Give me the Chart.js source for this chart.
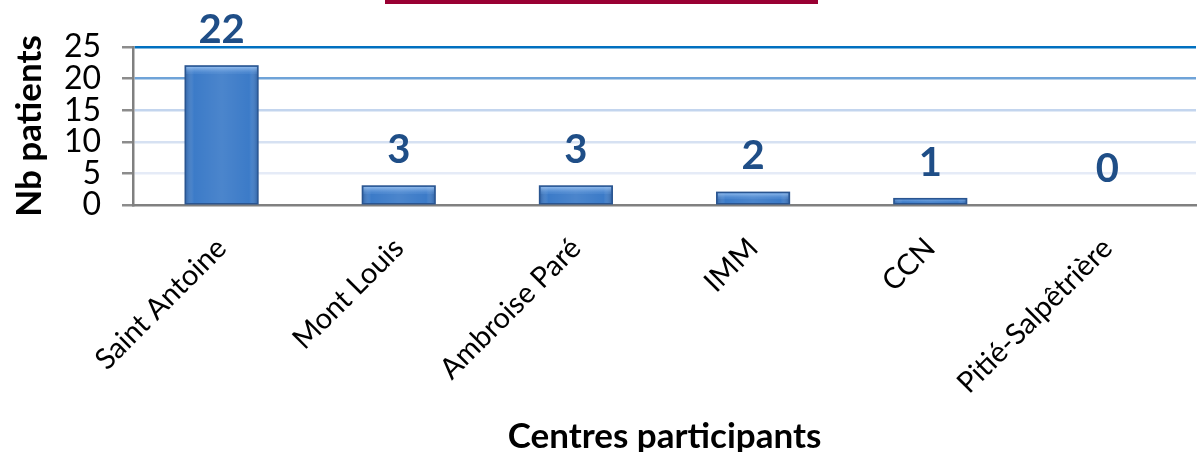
<!DOCTYPE html>
<html>
<head>
<meta charset="utf-8">
<script src="https://cdn.jsdelivr.net/npm/chart.js"></script>
<style>
  html, body { margin: 0; padding: 0; background: #fff; }
  #wrap { position: relative; width: 1197px; height: 452px; }
  #redbar { position: absolute; left: 385px; top: 0; width: 433px; height: 4px; background: #990033; }
</style>
</head>
<body>
<div id="wrap">
  <canvas id="c"></canvas>
  <div id="redbar"></div>
</div>
<script>
const categories = ['Saint Antoine', 'Mont Louis', 'Ambroise Paré', 'IMM', 'CCN', 'Pitié-Salpêtrière'];
const patients = [22, 3, 3, 2, 1, 0];
const yTicks = [0, 5, 10, 15, 20, 25];
const yAxisTitle = 'Nb patients';
const xAxisTitle = 'Centres participants';

const FONT = 'Lato, "Open Sans", sans-serif';

// bevel shading drawn over each bar using the bar element geometry
const barShade = {
  id: 'barShade',
  afterDatasetsDraw(chart) {
    const ctx = chart.ctx;
    const meta = chart.getDatasetMeta(0);
    ctx.save();
    meta.data.forEach((el) => {
      const h = el.base - el.y;
      if (h <= 0.5) return;
      const l = el.x - el.width / 2, r = el.x + el.width / 2;
      const g = ctx.createLinearGradient(l, 0, r, 0);
      g.addColorStop(0, 'rgba(20,50,100,0.35)');
      g.addColorStop(0.12, 'rgba(255,255,255,0.0)');
      g.addColorStop(0.5, 'rgba(255,255,255,0.08)');
      g.addColorStop(0.88, 'rgba(255,255,255,0.0)');
      g.addColorStop(1, 'rgba(20,50,100,0.35)');
      ctx.fillStyle = g;
      ctx.fillRect(l, el.y, el.width, h);
      const bh = Math.min(7, h / 2);
      const g2 = ctx.createLinearGradient(0, el.y, 0, el.y + bh);
      g2.addColorStop(0, 'rgba(170,205,245,0.9)');
      g2.addColorStop(1, 'rgba(120,170,230,0.2)');
      ctx.fillStyle = g2;
      ctx.fillRect(l + 1, el.y + 1, el.width - 2, bh);
      ctx.strokeStyle = '#2a5590';
      ctx.lineWidth = 1.5;
      ctx.strokeRect(l, el.y, el.width, h);
    });
    ctx.restore();
  }
};

const valueLabels = {
  id: 'valueLabels',
  afterDatasetsDraw(chart) {
    const ctx = chart.ctx;
    const meta = chart.getDatasetMeta(0);
    ctx.save();
    ctx.fillStyle = '#1f4e87';
    ctx.font = 'bold 40px ' + FONT;
    ctx.textAlign = 'center';
    ctx.textBaseline = 'bottom';
    meta.data.forEach((el, i) => {
      ctx.fillText(String(patients[i]), el.x, el.y - 16);
    });
    ctx.restore();
  }
};

new Chart(document.getElementById('c'), {
  type: 'bar',
  data: {
    labels: categories,
    datasets: [{
      data: patients,
      backgroundColor: '#3c7bc8',
      borderColor: '#2a5590',
      borderWidth: 0,
      barPercentage: 0.41,
      categoryPercentage: 1.0
    }]
  },
  options: {
    responsive: true,
    maintainAspectRatio: false,
    animation: false,
    layout: { padding: { top: 47, right: 1, left: 0, bottom: 0 } },
    plugins: { legend: { display: false }, tooltip: { enabled: false } },
    scales: {
      x: {
        grid: { display: false, drawTicks: false },
        border: { display: true, color: '#808080', width: 2.5 },
        ticks: {
          color: '#000',
          font: { family: FONT, size: 29 },
          minRotation: 45, maxRotation: 45,
          autoSkip: false,
          padding: 26
        },
        title: {
          display: true, text: xAxisTitle, color: '#000',
          font: { family: FONT, size: 35, weight: 'bold', lineHeight: 0.9 },
          padding: { top: 0, bottom: 0 }
        },
        afterFit(scale) { scale.height = 247; }
      },
      y: {
        min: 0, max: 25,
        afterBuildTicks(scale) { scale.ticks = yTicks.map(v => ({ value: v })); },
        grid: {
          color: (ctx) => {
            const v = ctx.tick && ctx.tick.value;
            if (v === 25) return '#0070c0';
            if (v === 20) return '#6fa3d8';
            if (v === 15) return '#c3d5ee';
            if (v === 10) return '#d6e1f2';
            if (v === 5) return '#e5ebf7';
            return 'rgba(0,0,0,0)';
          },
          lineWidth: 2.5,
          tickColor: '#8c8c8c',
          tickLength: 11,
          drawTicks: true
        },
        border: { display: true, color: '#808080', width: 2.5 },
        ticks: {
          color: '#000',
          font: { family: FONT, size: 32 },
          autoSkip: false,
          padding: 21
        },
        title: {
          display: true, text: yAxisTitle, color: '#000',
          font: { family: FONT, size: 35, weight: 'bold', lineHeight: 1 },
          padding: { top: 12, bottom: 0 }
        },
        afterFit(scale) { scale.width = 133; }
      }
    }
  },
  plugins: [barShade, valueLabels]
});
</script>
</body>
</html>
